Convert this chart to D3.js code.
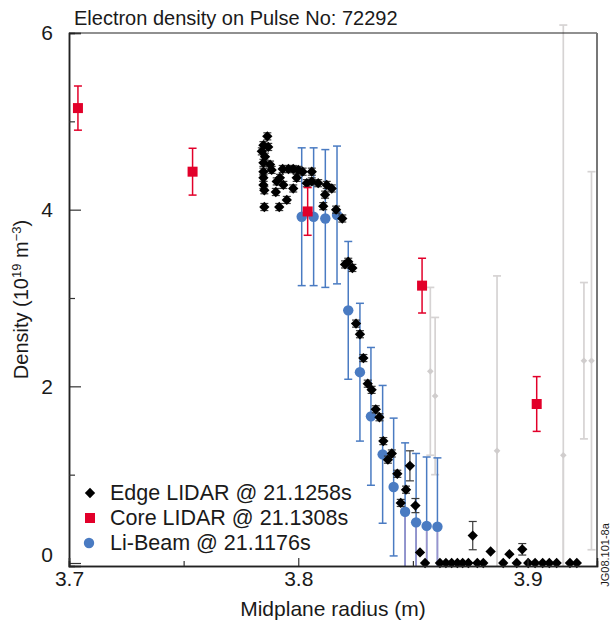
<!DOCTYPE html>
<html>
<head>
<meta charset="utf-8">
<script src="https://cdn.jsdelivr.net/npm/d3@7"></script>
<style>
  body { margin: 0; background: #fff; }
  text { font-family: "Liberation Sans Narrow", "Arial Narrow", "Liberation Sans", Arial, sans-serif; fill: #1a1a1a; }
</style>
</head>
<body>
<div id="graf"></div>
<script>
// -- Datos
edgeR = [3.7865, 3.7848, 3.7869, 3.7841, 3.7855, 3.7848, 3.7877, 3.7848, 3.7884, 3.7848,
         3.7848, 3.7852, 3.7852, 3.7906, 3.7920, 3.7935, 3.7902, 3.7917, 3.7950, 3.7932,
         3.7957, 3.7978, 3.7978, 3.8000, 3.8019, 3.7993, 3.8037, 3.8059, 3.8059, 3.8087,
         3.8124, 3.8146, 3.8117, 3.8109, 3.8165, 3.8192, 3.8204, 3.8218, 3.8236, 3.8252,
         3.8269, 3.8284, 3.8303, 3.8320, 3.8338, 3.8354, 3.8371, 3.8391, 3.8408, 3.8432,
         3.8447, 3.8470, 3.8487, 3.8511, 3.8531, 3.8553, 3.8618, 3.8644, 3.8669, 3.8694,
         3.8717, 3.8742, 3.8761, 3.8781, 3.8807, 3.8839, 3.8894, 3.8921, 3.8953, 3.8977,
         3.9003, 3.9033, 3.9066, 3.9095, 3.9127, 3.9185, 3.9215]
edgeN = [4.83, 4.73, 4.71, 4.66, 4.60, 4.53, 4.51, 4.43, 4.45, 4.36,
         4.28, 4.22, 4.03, 4.32, 4.36, 4.28, 4.20, 4.03, 4.11, 4.46,
         4.46, 4.46, 4.24, 4.45, 4.43, 4.36, 4.30, 4.43, 4.32, 4.30,
         4.28, 4.24, 4.17, 4.04, 4.00, 3.90, 3.38, 3.41, 3.34, 2.71,
         2.59, 2.32, 2.03, 1.96, 1.74, 1.65, 1.38, 1.17, 1.24, 1.01,
         0.68, 0.83, 1.10, 0.65, 0.12, 0.00, 0.00, 0.00, 0.00, 0.00,
         0.00, 0.00, 0.31, 0.00, 0.00, 0.13, 0.00, 0.10, 0.00, 0.155,
         0.00, 0.00, 0.00, 0.00, 0.00, 0.00, 0.00]
edgeErr = [0.04, 0.04, 0.04, 0.04, 0.04, 0.04, 0.04, 0.04, 0.04, 0.04,
           0.04, 0.04, 0.04, 0.04, 0.04, 0.04, 0.04, 0.04, 0.04, 0.04,
           0.04, 0.04, 0.04, 0.04, 0.04, 0.04, 0.04, 0.04, 0.04, 0.04,
           0.04, 0.04, 0.04, 0.04, 0.04, 0.04, 0.04, 0.04, 0.04, 0.04,
           0.04, 0.04, 0.04, 0.04, 0.04, 0.04, 0.04, 0.04, 0.04, 0.04,
           0.04, 0.04, 0.17, 0.08, 0.00, 0.00, 0.00, 0.00, 0.00, 0.00,
           0.00, 0.00, 0.16, 0.00, 0.00, 0.00, 0.00, 0.00, 0.00, 0.065,
           0.00, 0.00, 0.00, 0.00, 0.00, 0.00, 0.00]

// -- Puntos Edge LIDAR descartados (gris)
fadedR = [3.8576, 3.8597, 3.8867, 3.9156, 3.9246, 3.9279]
fadedN = [2.17, 1.89, 1.27, 1.22, 2.29, 2.29]
fadedErr = [0.95, 0.89, 1.98, 4.87, 0.885, 2.14]

coreR = [3.7039, 3.7539, 3.8041, 3.8540, 3.9040]
coreN = [5.15, 4.43, 3.98, 3.14, 1.80]
coreErr = [0.25, 0.265, 0.27, 0.31, 0.31]

liR = [3.8015, 3.8067, 3.8118, 3.8169, 3.8218, 3.8269, 3.8317, 3.8368, 3.8416, 3.8466, 3.8514, 3.8560, 3.8607]
liN = [3.92, 3.92, 3.90, 3.94, 2.86, 2.16, 1.66, 1.23, 0.86, 0.58, 0.46, 0.42, 0.41]
liErr = [0.78, 0.78, 0.78, 0.78, 0.78, 0.78, 0.78, 0.78, 0.78, 0.78, 0.78, 0.78, 0.78]

legendLabels = ['Edge LIDAR @ 21.1258s', 'Core LIDAR @ 21.1308s', 'Li-Beam @ 21.1176s']
yTicks = [0, 2, 4, 6]
yMinor = [1, 3, 5]
xTicks = [3.7, 3.8, 3.9]
xMinor = [3.75, 3.85]

// -- Configuracion del canvas
ancho_total = 612
alto_total = 628
margins = {top: 33, left: 69, right: 15, bottom: 62}

svg = d3.select('#graf').append('svg')
        .attr('width', ancho_total)
        .attr('height', alto_total)

x = d3.scaleLinear().domain([3.7, 3.9303]).range([margins.left, ancho_total - margins.right])
y = d3.scaleLinear().domain([-0.034, 6]).range([alto_total - margins.bottom, margins.top])

red = '#e2002a'
blue = '#4a7bc2'
diamond = d3.symbol(d3.symbolDiamond2, 68)

// -- Titulo
svg.append('text')
    .attr('x', 74)
    .attr('y', 25)
    .attr('font-size', '20px')
    .text('Electron density on Pulse No: 72292')

// -- Funcion para barras de error
function errorBars(sel, rs, ns, es, color, cap, width) {
    const lo = y.domain()[0]
    rs.forEach((r, i) => {
        if (es[i] <= 0) return
        const cx = x(r)
        const top = y(ns[i] + es[i])
        const botVal = ns[i] - es[i]
        const bot = y(Math.max(botVal, lo))
        sel.append('line')
            .attr('x1', cx).attr('x2', cx)
            .attr('y1', top).attr('y2', bot)
            .attr('stroke', color).attr('stroke-width', width)
        sel.append('line')
            .attr('x1', cx - cap).attr('x2', cx + cap)
            .attr('y1', top).attr('y2', top)
            .attr('stroke', color).attr('stroke-width', width)
        if (botVal >= lo) {
            sel.append('line')
                .attr('x1', cx - cap).attr('x2', cx + cap)
                .attr('y1', bot).attr('y2', bot)
                .attr('stroke', color).attr('stroke-width', width)
        } else {
            // -- parte inferior recortada (tono violeta)
            sel.append('line')
                .attr('x1', cx).attr('x2', cx)
                .attr('y1', y(ns[i])).attr('y2', bot)
                .attr('stroke', color === blue ? '#9a92cc' : color).attr('stroke-width', width)
        }
    })
}

g = svg.append('g')

// -- Gris
errorBars(g.append('g'), fadedR, fadedN, fadedErr, '#d6d3d3', 4, 1.7)
g.append('g').selectAll('path')
    .data(fadedR)
    .join('path')
    .attr('transform', (d, i) => `translate(${x(d)},${y(fadedN[i])})`)
    .attr('d', d3.symbol(d3.symbolDiamond2, 28))
    .attr('fill', '#d0cdcd')

// -- Li-Beam
errorBars(g.append('g'), liR, liN, liErr, blue, 4, 1.5)
g.append('g').selectAll('circle')
    .data(liR)
    .join('circle')
    .attr('cx', d => x(d))
    .attr('cy', (d, i) => y(liN[i]))
    .attr('r', 5.2)
    .attr('fill', blue)

// -- Edge LIDAR
errorBars(g.append('g'), edgeR, edgeN, edgeErr, '#3a3a3a', 4, 1.2)
g.append('g').selectAll('path')
    .data(edgeR)
    .join('path')
    .attr('transform', (d, i) => `translate(${x(d)},${y(edgeN[i])})`)
    .attr('d', diamond)
    .attr('fill', '#000')

// -- Core LIDAR
errorBars(g.append('g'), coreR, coreN, coreErr, red, 4, 1.5)
g.append('g').selectAll('rect')
    .data(coreR)
    .join('rect')
    .attr('x', d => x(d) - 5)
    .attr('y', (d, i) => y(coreN[i]) - 5)
    .attr('width', 10)
    .attr('height', 10)
    .attr('fill', red)

// -- Marco
x0 = x.range()[0]; x1 = x.range()[1]
y0 = y.range()[0]; y1 = y.range()[1]
svg.append('line').attr('x1', x0).attr('x2', x1).attr('y1', y1).attr('y2', y1)
    .attr('stroke', '#222').attr('stroke-width', 1.2)
svg.append('line').attr('x1', x1).attr('x2', x1).attr('y1', y1).attr('y2', y0)
    .attr('stroke', '#777').attr('stroke-width', 2)

// -- Ejes
yAxis = d3.axisLeft(y).tickValues(yTicks).tickSize(-12).tickPadding(16).tickFormat(d3.format('d'))
yAxisMinor = d3.axisLeft(y).tickValues(yMinor).tickSize(-6).tickFormat('')
xAxis = d3.axisBottom(x).tickValues(xTicks).tickSize(-8).tickPadding(7).tickFormat(d3.format('.1f'))
xAxisMinor = d3.axisBottom(x).tickValues(xMinor).tickSize(-5).tickFormat('')

ya = svg.append('g').attr('transform', `translate(${x0},0)`).call(yAxis)
svg.append('g').attr('transform', `translate(${x0},0)`).call(yAxisMinor)
xa = svg.append('g').attr('transform', `translate(0,${y0})`).call(xAxis)
svg.append('g').attr('transform', `translate(0,${y0})`).call(xAxisMinor)

svg.selectAll('.domain').attr('stroke', '#222').attr('stroke-width', 1.5)
svg.selectAll('.tick line').attr('stroke', '#333').attr('stroke-width', 1.2)
ya.selectAll('.tick text').attr('font-size', '21px').attr('font-family', null)
ya.selectAll('.tick text').filter(d => d === 0).attr('dy', '-0.05em')
xa.selectAll('.tick text').attr('font-size', '21px').attr('font-family', null)
    .attr('dy', '0.6em')

// -- Etiquetas de ejes
svg.append('text')
    .attr('x', (x0 + x1) / 2)
    .attr('y', 616)
    .attr('text-anchor', 'middle')
    .attr('font-size', '21px')
    .text('Midplane radius (m)')

yl = svg.append('text')
    .attr('transform', `translate(28,${(y0 + y1) / 2}) rotate(-90)`)
    .attr('text-anchor', 'middle')
    .attr('font-size', '20px')
yl.append('tspan').text('Density (10')
yl.append('tspan').attr('dy', -7).attr('font-size', '13px').text('19')
yl.append('tspan').attr('dy', 7).text(' m')
yl.append('tspan').attr('dy', -7).attr('font-size', '13px').text('\u22123')
yl.append('tspan').attr('dy', 7).text(')')

svg.append('text')
    .attr('transform', `translate(609,555) rotate(-90)`)
    .attr('text-anchor', 'middle')
    .attr('font-size', '11px')
    .text('JG08.101-8a')

// -- Leyenda
leg = svg.append('g')
legendLabels.forEach((d, i) => {
    const ly = 493 + i * 25
    if (i === 0) {
        leg.append('path')
            .attr('transform', `translate(90,${ly})`)
            .attr('d', diamond)
            .attr('fill', '#000')
    } else if (i === 1) {
        leg.append('rect')
            .attr('x', 85).attr('y', ly - 5)
            .attr('width', 10).attr('height', 10)
            .attr('fill', red)
    } else {
        leg.append('circle')
            .attr('cx', 89).attr('cy', ly)
            .attr('r', 5.2)
            .attr('fill', blue)
    }
    leg.append('text')
        .attr('x', 110)
        .attr('y', ly + 7)
        .attr('font-size', '21.5px')
        .text(d)
})
</script>
</body>
</html>
